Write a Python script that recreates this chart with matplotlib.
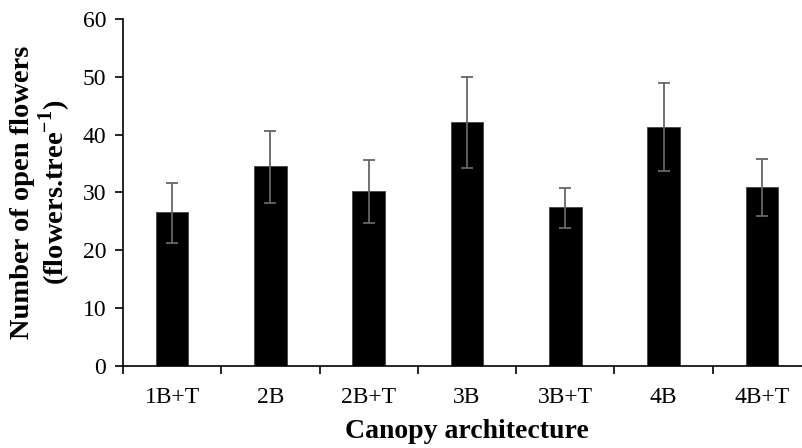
import matplotlib
matplotlib.use("Agg")
import matplotlib.pyplot as plt
import numpy as np

categories = ["1B+T", "2B", "2B+T", "3B", "3B+T", "4B", "4B+T"]
values = [26.6, 34.6, 30.3, 42.2, 27.5, 41.4, 31.0]
err_upper = [5.1, 6.1, 5.4, 7.7, 3.3, 7.5, 4.8]
err_lower = [5.3, 6.4, 5.5, 7.9, 3.6, 7.7, 5.0]

plt.rcParams['font.family'] = ['Liberation Serif', 'DejaVu Serif']
plt.rcParams['mathtext.fontset'] = 'custom'
plt.rcParams['mathtext.rm'] = 'Liberation Serif'
plt.rcParams['mathtext.bf'] = 'Liberation Serif:bold'

W, H = 803, 448
fig = plt.figure(figsize=(W / 100, H / 100), dpi=100)
left, right = 123, 811
top, bottom = 19, 366
ax = fig.add_axes([left / W, 1 - bottom / H, (right - left) / W, (bottom - top) / H])

x = np.arange(len(categories))
ax.bar(x + 0.5, values, width=0.33, color='black', edgecolor='#444444', linewidth=0.6, zorder=2)
ax.errorbar(x + 0.5, values, yerr=[err_lower, err_upper], fmt='none', ecolor='#666666',
            elinewidth=1.3, capsize=4.5, capthick=1.3, zorder=3)

ax.set_xlim(0, len(categories))
ax.set_ylim(0, 60)
ax.set_yticks(np.arange(0, 61, 10))
ax.set_xticks(np.arange(0, len(categories)))
ax.set_xticks(x + 0.5, minor=True)
ax.set_xticklabels([])
ax.set_xticklabels(categories, minor=True)
ax.tick_params(axis='x', which='major', direction='out', length=6, width=1.2, color='black')
ax.tick_params(axis='x', which='minor', length=0, pad=15, labelsize=17)
ax.tick_params(axis='y', direction='out', length=6, width=1.2, pad=6, labelsize=17)

for s in ['top', 'right']:
    ax.spines[s].set_visible(False)
for s in ['left', 'bottom']:
    ax.spines[s].set_linewidth(1.2)

ax.set_xlabel("Canopy architecture", fontsize=20, fontweight='bold', labelpad=8)
ax.set_ylabel("Number of open flowers\n(flowers.tree$^{\\mathbf{-1}}$)", fontsize=20.5,
              fontweight='bold', labelpad=7, linespacing=1.05)

fig.savefig("out.png", dpi=100)
